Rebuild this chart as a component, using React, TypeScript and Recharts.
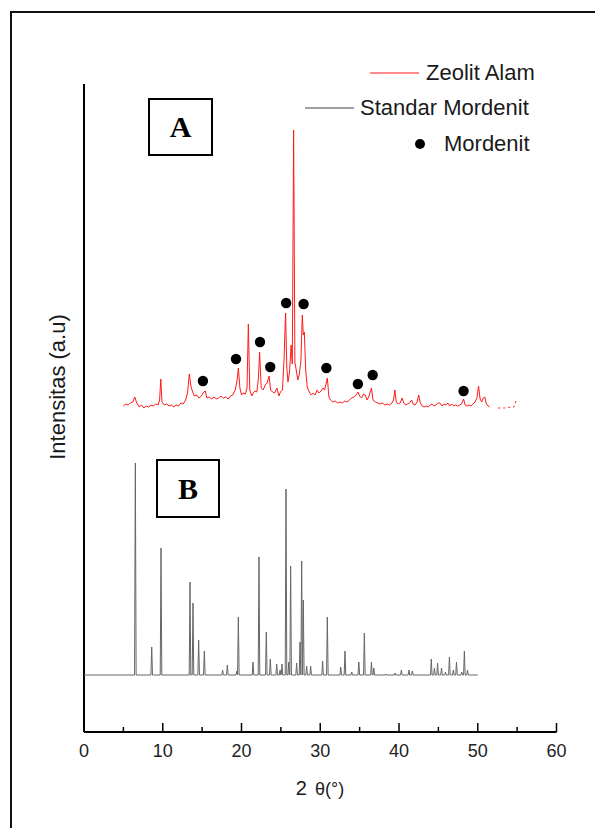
import React from 'react';
import { ComposedChart, Legend, Line, ReferenceLine, Scatter, XAxis, YAxis } from 'recharts';

// Zeolit Alam (A), 2θ and intensity (a.u.)
const zeolitTheta = [
  5.0, 5.3, 5.6, 5.9, 6.2, 6.45, 6.7, 7.0, 7.3, 7.6, 7.9, 8.2, 8.5, 8.8, 9.1, 9.4, 9.6, 9.75, 9.9,
  10.2, 10.5, 10.8, 11.1, 11.4, 11.7, 12.0, 12.3, 12.6, 12.9, 13.15, 13.37, 13.6, 13.8, 14.0, 14.3,
  14.6, 14.9, 15.2, 15.4, 15.6, 15.9, 16.2, 16.5, 16.8, 17.1, 17.4, 17.7, 18.0, 18.3, 18.6, 18.9,
  19.2, 19.45, 19.6, 19.8, 20.0, 20.2, 20.5, 20.7, 20.87, 21.05, 21.3, 21.5, 21.7, 21.95, 22.15,
  22.3, 22.5, 22.75, 23.0, 23.25, 23.5, 23.7, 23.95, 24.2, 24.5, 24.75, 24.95, 25.2, 25.4, 25.6,
  25.75, 25.9, 26.1, 26.3, 26.45, 26.62, 26.78, 26.95, 27.15, 27.35, 27.55, 27.72, 27.85, 27.98,
  28.15, 28.35, 28.6, 28.85, 29.1, 29.35, 29.6, 29.85, 30.1, 30.35, 30.55, 30.9, 31.1, 31.3, 31.6,
  31.9, 32.2, 32.5, 32.8, 33.1, 33.4, 33.7, 34.0, 34.3, 34.55, 34.8, 35.0, 35.25, 35.5, 35.7, 35.95,
  36.2, 36.5, 36.7, 37.0, 37.3, 37.6, 37.9, 38.2, 38.5, 38.8, 39.1, 39.3, 39.48, 39.65, 39.9, 40.15,
  40.4, 40.6, 40.85, 41.1, 41.35, 41.6, 41.8, 42.05, 42.3, 42.5, 42.7, 42.95, 43.2, 43.45, 43.7,
  43.95, 44.2, 44.45, 44.7, 44.95, 45.2, 45.45, 45.7, 45.95, 46.2, 46.45, 46.7, 46.95, 47.2, 47.45,
  47.7, 47.95, 48.2, 48.4, 48.65, 48.9, 49.15, 49.4, 49.65, 49.9, 50.1, 50.3, 50.5, 50.7, 50.9,
  51.1, 51.3, 51.5,
];
const zeolitInt = [
  326, 328, 327, 329, 330, 335, 329, 325, 327, 324, 326, 325, 327, 326, 328, 327, 332, 353, 330,
  327, 328, 326, 327, 325, 327, 326, 329, 328, 332, 339, 358, 345, 340, 336, 337,
  334, 336, 340, 341, 334, 335, 333, 335, 333, 334, 336, 334, 335, 333, 336, 337,
  342, 352, 364, 344, 337, 339, 338, 344, 408, 342, 336, 339, 341, 340, 354,
  380, 344, 342, 347, 349, 356, 342, 340, 339, 344, 336, 340, 342, 372, 419,
  365, 350, 360, 387, 368, 602, 370, 362, 352, 358, 372, 417, 397, 400,
  362, 345, 340, 337, 339, 337, 342, 339, 341, 344, 342, 354, 335, 332, 330,
  331, 329, 330, 329, 331, 330, 332, 334, 335, 337, 340, 336, 334, 338, 337, 332,
  336, 344, 332, 330, 329, 328, 329, 327, 328, 327, 329, 332, 342, 330, 328, 329,
  334, 329, 327, 328, 329, 332, 328, 327, 330, 337, 329, 326, 325, 326, 325,
  327, 328, 326, 327, 329, 329, 326, 328, 327, 329, 326, 328, 326, 327, 326,
  327, 328, 333, 327, 326, 327, 326, 328, 330, 334, 346, 333, 330, 334, 335,
  328, 326, 325,
];
const zeolitTailTheta = [52.6, 53.4, 54.2, 54.6, 54.85];
const zeolitTailInt = [324, 324, 325, 325, 331];

// Standar Mordenit (B): flat background with sharp reflections
const standarBase = 57;
const standarStart = 0;
const standarEnd = 50;
const standarPeakTheta = [
  6.52, 8.6, 9.78, 13.46, 13.84, 14.56, 15.28, 17.6, 18.2, 19.4, 19.6, 21.46, 22.22, 23.15, 23.66,
  24.47, 24.9, 25.14, 25.65, 26.0, 26.24, 27.0, 27.43, 27.64, 27.85, 28.27, 28.78, 30.3, 30.9, 32.6,
  33.14, 34.0, 34.9, 35.6, 36.5, 36.8, 38.35, 39.5, 40.3, 41.27, 41.7, 44.1, 44.5, 44.9, 45.4, 45.9,
  46.4, 46.9, 47.3, 47.96, 48.3, 48.7,
];
const standarPeakInt = [
  269, 85, 184, 150, 129, 92, 81, 62, 67, 61, 115, 70, 175, 100, 73,
  68, 62, 68, 243, 70, 166, 69, 90, 171, 132, 66, 66, 71, 115, 65,
  81, 60, 70, 99, 70, 64, 58, 59, 62, 62, 61, 73, 64, 69, 64, 60,
  75, 62, 70, 60, 81, 62,
];

// Mordenit markers
const mordenitTheta = [15.1, 19.3, 22.35, 23.65, 25.67, 27.89, 30.78, 34.78, 36.66, 48.2];
const mordenitInt = [351, 373, 390, 365, 429, 428, 364, 348, 357, 341];

const xTicks = [0, 5, 10, 15, 20, 25, 30, 35, 40, 45, 50, 55, 60];
const xTickLabels = ['0', '10', '20', '30', '40', '50', '60'];

const SANS = 'Arial, "Liberation Sans", sans-serif';
const SERIF = '"Times New Roman", "Liberation Serif", serif';
const RED = '#ff1a1a';
const GRAY = '#666666';

const zeolitData = zeolitTheta.map((x, i) => ({ x, v: zeolitInt[i] }));
const zeolitTail = zeolitTailTheta.map((x, i) => ({ x, v: zeolitTailInt[i] }));
const mordenitData = mordenitTheta.map((x, i) => ({ x, v: mordenitInt[i] }));

const standarData: { x: number; v: number }[] = [{ x: standarStart, v: standarBase }];
standarPeakTheta.forEach((p, i) => {
  standarData.push({ x: p - 0.1, v: standarBase });
  standarData.push({ x: p, v: standarPeakInt[i] });
  standarData.push({ x: p + 0.1, v: standarBase });
});
standarData.push({ x: standarEnd, v: standarBase });

function AxisTick({ x, y, payload }: any) {
  const label = String(payload.value);
  const major = xTickLabels.includes(label);
  return (
    <g>
      <line x1={x} y1={y} x2={x} y2={y - (major ? 9 : 5)} stroke="#000" strokeWidth={1.5} />
      {major && (
        <text x={x} y={y + 25} textAnchor="middle" fontSize={18} fill="#222" fontFamily={SANS}>
          {label}
        </text>
      )}
    </g>
  );
}

function MarkerDot({ cx, cy }: any) {
  return <circle cx={cx} cy={cy} r={5.2} fill="#000" />;
}

function LegendBox() {
  const text = { position: 'absolute' as const, fontSize: 22, lineHeight: '26px', whiteSpace: 'nowrap' as const, color: '#1a1a1a', fontFamily: SANS };
  return (
    <div style={{ position: 'relative', width: 595, height: 170 }}>
      <div style={{ position: 'absolute', left: 370, top: 72, width: 49, height: 1.5, background: '#ff8c8c' }} />
      <div style={{ ...text, left: 426, top: 60 }}>Zeolit Alam</div>
      <div style={{ position: 'absolute', left: 305, top: 107, width: 49, height: 1.5, background: '#a0a0a0' }} />
      <div style={{ ...text, left: 360, top: 95 }}>Standar Mordenit</div>
      <div style={{ position: 'absolute', left: 415, top: 139, width: 10.4, height: 10.4, borderRadius: '50%', background: '#000' }} />
      <div style={{ ...text, left: 444, top: 131 }}>Mordenit</div>
    </div>
  );
}

function PanelTag({ left, top, width, height, children }: any) {
  return (
    <div style={{
      position: 'absolute', left, top, width, height, boxSizing: 'border-box', border: '2px solid #000',
      display: 'flex', alignItems: 'center', justifyContent: 'center',
      fontFamily: SERIF, fontWeight: 700, fontSize: 30, color: '#000', background: '#fff',
    }}>
      {children}
    </div>
  );
}

export default function App() {
  return (
    <div style={{ position: 'absolute', left: 0, top: 0, width: 595, height: 828, overflow: 'hidden', background: '#fff' }}>
      <div style={{
        position: 'absolute', left: 10, top: 11, width: 620, height: 860,
        borderLeft: '2px solid #111', borderTop: '2px solid #111',
      }} />
      <div style={{ position: 'absolute', left: 0, top: 0 }}>
        <ComposedChart width={595} height={828} margin={{ top: 84, right: 38.5, left: 84, bottom: 0 }}>
          <XAxis
            dataKey="x"
            type="number"
            domain={[0, 60]}
            ticks={xTicks}
            interval={0}
            height={96}
            tickSize={0}
            tickMargin={0}
            tickLine={false}
            tick={<AxisTick />}
            axisLine={false}
          />
          <YAxis
            dataKey="v"
            type="number"
            domain={[0, 648]}
            width={0}
            tick={false}
            tickLine={false}
            axisLine={false}
          />
          <ReferenceLine x={0} stroke="#000" strokeWidth={2} />
          <ReferenceLine y={0} stroke="#000" strokeWidth={2} />
          <Legend
            verticalAlign="middle"
            align="center"
            layout="horizontal"
            wrapperStyle={{ left: 0, top: 0, width: 595, height: 170 }}
            content={<LegendBox />}
          />
          <Line data={standarData} dataKey="v" type="linear" stroke={GRAY} strokeWidth={1} dot={false}
            activeDot={false} isAnimationActive={false} name="Standar Mordenit" />
          <Line data={zeolitData} dataKey="v" type="linear" stroke={RED} strokeWidth={1} dot={false}
            activeDot={false} isAnimationActive={false} name="Zeolit Alam" />
          <Line data={zeolitTail} dataKey="v" type="linear" stroke={RED} strokeWidth={1} strokeDasharray="2 3"
            dot={false} activeDot={false} isAnimationActive={false} legendType="none" />
          <Scatter data={mordenitData} dataKey="v" shape={<MarkerDot />} isAnimationActive={false} name="Mordenit" />
        </ComposedChart>
      </div>

      <PanelTag left={148} top={98} width={65} height={58}>A</PanelTag>
      <PanelTag left={156} top={459} width={64} height={59}>B</PanelTag>

      <div style={{
        position: 'absolute', left: 58, top: 387, transform: 'translate(-50%, -50%) rotate(-90deg)',
        fontFamily: SANS, fontSize: 22, color: '#1a1a1a', whiteSpace: 'nowrap',
      }}>
        Intensitas (a.u)
      </div>
      <div style={{
        position: 'absolute', left: 320, top: 788, transform: 'translate(-50%, -50%)',
        fontFamily: SANS, fontSize: 20, color: '#1a1a1a', whiteSpace: 'nowrap',
      }}>
        2<span style={{ marginLeft: 8, fontSize: 18 }}>θ(°)</span>
      </div>
    </div>
  );
}
